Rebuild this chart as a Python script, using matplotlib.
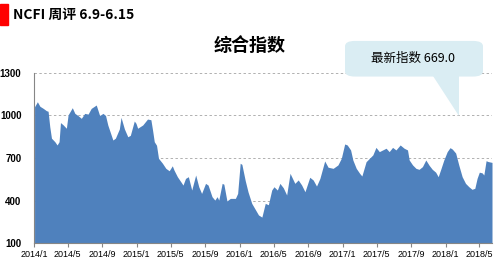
import matplotlib
matplotlib.use("Agg")
import matplotlib.pyplot as plt
from matplotlib.patches import FancyBboxPatch, Polygon, Rectangle
import pandas as pd

plt.rcParams["font.family"] = ["Noto Sans CJK SC", "DejaVu Sans"]

BLUE = "#4f81bd"; GRID = "#b0b0b0"; BOX = "#daedf3"

# NCFI composite index
dates = ["2014-01-03", "2014-01-13", "2014-01-22", "2014-02-03", "2014-02-14", "2014-02-20",
         "2014-02-26", "2014-03-04", "2014-03-16", "2014-03-24", "2014-03-31", "2014-04-05",
         "2014-04-14", "2014-04-26", "2014-05-02", "2014-05-17", "2014-05-26", "2014-06-06",
         "2014-06-18", "2014-06-30", "2014-07-12", "2014-07-23", "2014-08-10", "2014-08-22",
         "2014-09-03", "2014-09-12", "2014-09-20", "2014-10-08", "2014-10-17", "2014-10-31",
         "2014-11-06", "2014-11-18", "2014-11-30", "2014-12-09", "2014-12-23", "2014-12-29",
         "2015-01-04", "2015-01-22", "2015-02-08", "2015-02-20", "2015-02-26", "2015-03-04",
         "2015-03-12", "2015-03-19", "2015-04-02", "2015-04-14", "2015-04-26", "2015-05-07",
         "2015-05-13", "2015-05-25", "2015-06-06", "2015-06-14", "2015-06-23", "2015-07-03",
         "2015-07-15", "2015-07-29", "2015-08-09", "2015-08-19", "2015-09-02", "2015-09-11",
         "2015-09-25", "2015-10-05", "2015-10-13", "2015-10-19", "2015-10-31", "2015-11-06",
         "2015-11-17", "2015-11-29", "2015-12-17", "2015-12-25", "2016-01-03", "2016-01-09",
         "2016-01-21", "2016-01-31", "2016-02-13", "2016-03-08", "2016-03-20", "2016-04-01",
         "2016-04-12", "2016-04-24", "2016-05-02", "2016-05-14", "2016-05-23", "2016-06-04",
         "2016-06-16", "2016-06-28", "2016-07-15", "2016-07-27", "2016-08-08", "2016-08-20",
         "2016-09-06", "2016-09-18", "2016-09-30", "2016-10-12", "2016-10-29", "2016-11-10",
         "2016-11-28", "2016-12-15", "2016-12-27", "2017-01-08", "2017-01-17", "2017-01-29",
         "2017-02-06", "2017-02-18", "2017-03-02", "2017-03-10", "2017-03-25", "2017-04-06",
         "2017-04-18", "2017-04-29", "2017-05-11", "2017-05-23", "2017-06-04", "2017-06-15",
         "2017-06-27", "2017-07-09", "2017-07-24", "2017-08-07", "2017-08-19", "2017-08-25",
         "2017-09-06", "2017-09-18", "2017-09-29", "2017-10-11", "2017-10-23", "2017-11-04",
         "2017-11-15", "2017-11-27", "2017-12-06", "2017-12-15", "2017-12-26", "2018-01-07",
         "2018-01-17", "2018-01-25", "2018-02-06", "2018-02-17", "2018-03-01", "2018-03-13",
         "2018-03-25", "2018-04-05", "2018-04-15", "2018-04-23", "2018-05-01", "2018-05-11",
         "2018-05-17", "2018-05-25", "2018-06-01", "2018-06-08", "2018-06-15"]
values = [1062, 1097, 1065, 1050, 1034, 1030,
          921, 840, 815, 792, 815, 950,
          935, 910, 1004, 1055, 1015, 1000,
          980, 1015, 1010, 1050, 1074, 1000,
          1015, 1000, 933, 827, 840, 905,
          987, 905, 850, 860, 961, 945,
          910, 933, 975, 970, 896, 815,
          790, 698, 663, 627, 610, 645,
          615, 568, 533, 509, 556, 568,
          474, 580, 497, 450, 521, 509,
          427, 403, 427, 403, 521, 515,
          397, 415, 415, 450, 663, 655,
          540, 460, 380, 298, 283, 380,
          370, 474, 497, 474, 521, 490,
          439, 592, 521, 545, 510, 462,
          564, 545, 502, 556, 679, 635,
          627, 651, 698, 799, 792, 757,
          686, 627, 592, 573, 674, 698,
          722, 775, 745, 757, 769, 745,
          775, 757, 792, 769, 757, 686,
          651, 627, 620, 639, 686, 648,
          620, 600, 568, 620, 686, 745,
          773, 763, 735, 651, 568, 521,
          497, 479, 486, 556, 600, 595,
          580, 681, 675, 672, 669]
yticks = [100, 400, 700, 1000, 1300]
xticks = ["2014-01-01", "2014-05-01", "2014-09-01", "2015-01-01", "2015-05-01", "2015-09-01",
          "2016-01-01", "2016-05-01", "2016-09-01", "2017-01-01", "2017-05-01", "2017-09-01",
          "2018-01-01", "2018-05-01"]
latest = 669.0

d = pd.to_datetime(dates)
fig = plt.figure(figsize=(5.0, 2.64), dpi=100)
ax = fig.add_axes([0.068, 0.0795, 0.916, 0.644])
ax.fill_between(d, 100, values, color=BLUE, lw=0)
ax.set_ylim(100, 1300)
ax.set_xlim(pd.Timestamp("2014-01-01"), d[-1])
ax.set_yticks(yticks)
ax.set_yticklabels([str(v) for v in yticks], fontsize=7, fontweight="bold", family="Liberation Sans")
xt = pd.to_datetime(xticks)
ax.set_xticks(xt)
ax.set_xticklabels([f"{t.year}/{t.month}" for t in xt], fontsize=6.5, family="Liberation Sans")
for y in yticks[1:]:
    ax.axhline(y, color=GRID, ls=(0, (2.5, 2.5)), lw=0.7, zorder=0)
for s in ("top", "right"):
    ax.spines[s].set_visible(False)
ax.spines["left"].set_color("#868686"); ax.spines["bottom"].set_color("#868686")
ax.tick_params(axis="y", length=0, pad=9)
ax.tick_params(axis="x", length=3, color="#868686", pad=2)

# header
fig.patches.append(Rectangle((0, 0.905), 0.016, 0.08, transform=fig.transFigure, color="#ff0000"))
fig.text(0.026, 0.945, "NCFI 周评 6.9-6.15", fontsize=10, fontweight="bold", va="center")
fig.text(0.5, 0.826, "综合指数", fontsize=13, fontweight="bold", ha="center", va="center")

# callout
fig.patches.append(FancyBboxPatch((0.69, 0.71), 0.276, 0.135, boxstyle="round,pad=0,rounding_size=0.02",
                                  transform=fig.transFigure, color=BOX, lw=0))
fig.patches.append(Polygon([(0.865, 0.712), (0.918, 0.712), (0.918, 0.56)], closed=True,
                           transform=fig.transFigure, color=BOX, lw=0))
fig.text(0.826, 0.78, f"最新指数 {latest:.1f}", fontsize=9, ha="center", va="center")

fig.savefig("out.png", dpi=100, facecolor="white")
